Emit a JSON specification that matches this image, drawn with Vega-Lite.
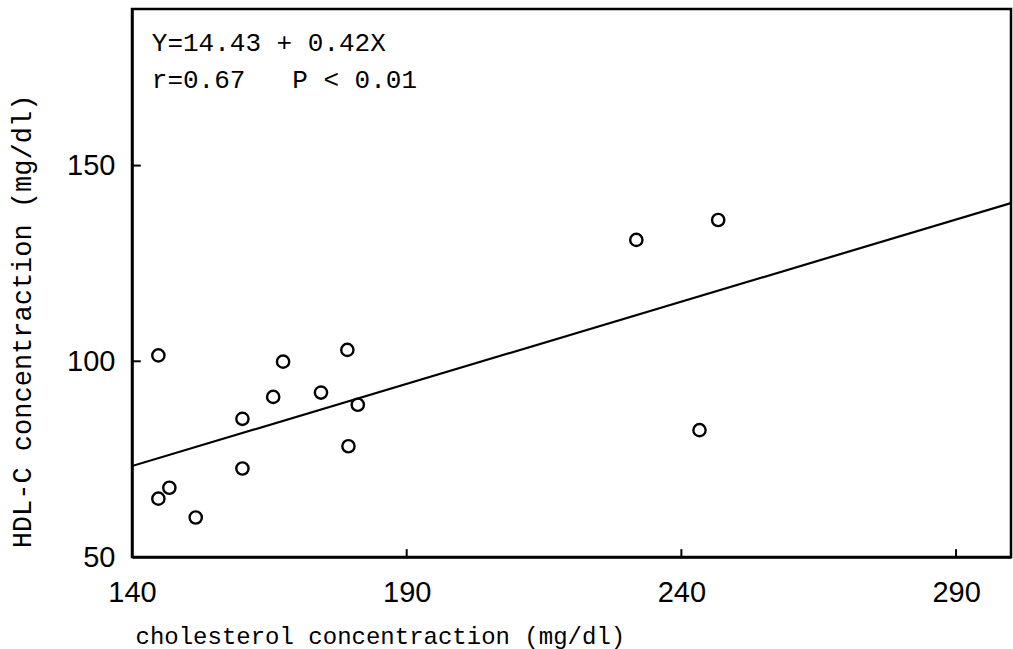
{
  "$schema": "https://vega.github.io/schema/vega-lite/v6.json",
  "width": 879,
  "height": 548,
  "autosize": {"type": "none"},
  "padding": {"left": 132, "top": 9, "right": 2, "bottom": 92},
  "background": "white",
  "config": {
    "view": {"stroke": "black", "strokeWidth": 2.5},
    "axis": {
      "grid": false,
      "domainColor": "black",
      "domainWidth": 2.5,
      "ticks": false,
      "labelFont": "Liberation Sans",
      "labelFontSize": 29,
      "labelColor": "black",
      "titleFont": "Liberation Mono",
      "titleFontWeight": "normal",
      "titleColor": "black"
    }
  },
  "datasets": {
    "points": [
      {"chol": 144.8, "hdl": 101.5},
      {"chol": 167.5, "hdl": 99.9},
      {"chol": 165.7, "hdl": 90.9},
      {"chol": 174.4, "hdl": 92.0},
      {"chol": 179.2, "hdl": 102.9},
      {"chol": 181.1, "hdl": 88.9},
      {"chol": 160.1, "hdl": 85.3},
      {"chol": 179.4, "hdl": 78.3},
      {"chol": 160.1, "hdl": 72.6},
      {"chol": 144.8, "hdl": 64.9},
      {"chol": 146.8, "hdl": 67.7},
      {"chol": 151.6, "hdl": 60.1},
      {"chol": 231.8, "hdl": 131.0},
      {"chol": 246.7, "hdl": 136.1},
      {"chol": 243.3, "hdl": 82.4}
    ],
    "fit": [
      {"chol": 140, "hdl": 73.23},
      {"chol": 300, "hdl": 140.43}
    ],
    "notes": [
      {"chol": 143.6, "hdl": 179.2, "label": "Y=14.43 + 0.42X"},
      {"chol": 143.6, "hdl": 169.7, "label": "r=0.67\u00a0\u00a0\u00a0P < 0.01"}
    ],
    "xticks": [{"chol": 190}, {"chol": 240}, {"chol": 290}],
    "yticks": [{"hdl": 100}, {"hdl": 150}]
  },
  "layer": [
    {
      "data": {"name": "fit"},
      "mark": {"type": "line", "color": "black", "strokeWidth": 2.2, "clip": true},
      "encoding": {
        "x": {
          "field": "chol",
          "type": "quantitative",
          "scale": {"domain": [140, 300], "nice": false, "zero": false},
          "axis": {
            "values": [140, 190, 240, 290],
            "title": "cholesterol concentraction (mg/dl)",
            "titleFontSize": 24,
            "titleAlign": "left",
            "titleAnchor": "start",
            "titleBaseline": "alphabetic",
            "titleX": 3,
            "titleY": 86,
            "labelPadding": 21,
            "labelBaseline": "top",
            "labelFlush": false
          }
        },
        "y": {
          "field": "hdl",
          "type": "quantitative",
          "scale": {"domain": [50, 190], "nice": false, "zero": false},
          "axis": {
            "values": [50, 100, 150],
            "title": "HDL-C concentraction (mg/dl)",
            "titleFontSize": 27,
            "titleAngle": -90,
            "titleAlign": "center",
            "titleBaseline": "middle",
            "titleX": -110,
            "titleY": 312,
            "labelPadding": 17,
            "labelBaseline": "middle",
            "labelFlush": false
          }
        }
      }
    },
    {
      "data": {"name": "xticks"},
      "mark": {"type": "rule", "color": "black", "strokeWidth": 2},
      "encoding": {
        "x": {"field": "chol", "type": "quantitative"},
        "y": {"datum": 50},
        "y2": {"datum": 52}
      }
    },
    {
      "data": {"name": "yticks"},
      "mark": {"type": "rule", "color": "black", "strokeWidth": 2},
      "encoding": {
        "y": {"field": "hdl", "type": "quantitative"},
        "x": {"datum": 140},
        "x2": {"datum": 141.6}
      }
    },
    {
      "data": {"name": "points"},
      "mark": {"type": "point", "shape": "circle", "filled": false, "color": "black", "size": 150, "strokeWidth": 2.4, "opacity": 1},
      "encoding": {
        "x": {"field": "chol", "type": "quantitative"},
        "y": {"field": "hdl", "type": "quantitative"}
      }
    },
    {
      "data": {"name": "notes"},
      "mark": {"type": "text", "font": "Liberation Mono", "fontSize": 26, "align": "left", "baseline": "alphabetic", "color": "black"},
      "encoding": {
        "x": {"field": "chol", "type": "quantitative"},
        "y": {"field": "hdl", "type": "quantitative"},
        "text": {"field": "label"}
      }
    }
  ]
}
